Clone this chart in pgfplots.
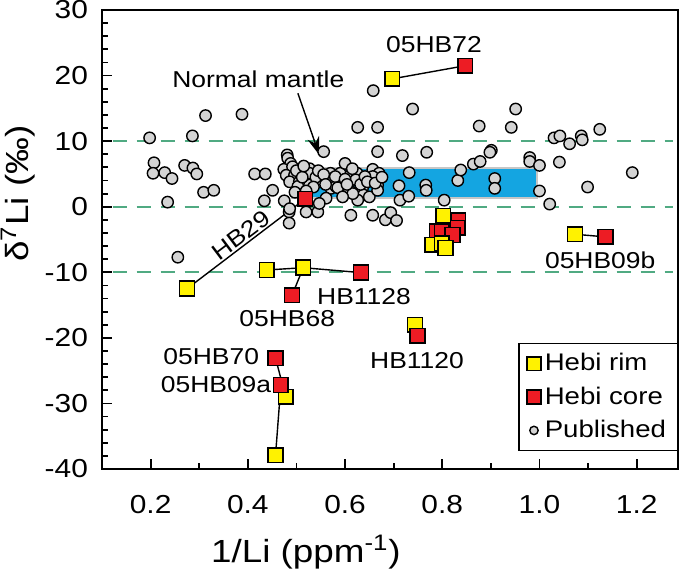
\documentclass[border=0pt]{standalone}
\usepackage{fontspec}
\setmainfont{Liberation Sans}[FakeStretch=1.15]
\usepackage{pgfplots}
\pgfplotsset{compat=1.18}
\usetikzlibrary{arrows.meta}
\definecolor{rimY}{RGB}{255,242,0}
\definecolor{coreR}{RGB}{237,28,36}
\definecolor{pubG}{RGB}{212,212,212}
\definecolor{mantleB}{RGB}{20,165,225}
\definecolor{dashG}{RGB}{80,170,130}
\newcommand\annot{\fontsize{11.5}{13}\selectfont}
\begin{document}
\begin{tikzpicture}
\begin{axis}[
  scale only axis, width=288pt, height=229.5pt,
  xmin=0.1, xmax=1.285, ymin=-40, ymax=30,
  xtick={0.2,0.4,0.6,0.8,1.0,1.2}, ytick={-40,-30,-20,-10,0,10,20,30},
  minor x tick num=1, minor y tick num=4,
  tick pos=left, tick align=inside,
  major tick length=5pt, minor tick length=3.2pt,
  every tick/.style={black, line width=0.9pt},
  axis line style={line width=1.2pt},
  /pgf/number format/assume math mode=true,
  x tick label style={/pgf/number format/fixed, /pgf/number format/fixed zerofill, /pgf/number format/precision=1, font=\fontsize{13}{15}\selectfont, yshift=-9.5pt},
  y tick label style={font=\fontsize{13}{15}\selectfont, xshift=-3.5pt},
  xlabel={1/Li (ppm\textsuperscript{-1})},
  ylabel={δ\textsuperscript{7}Li (‰)},
  xlabel style={font=\fontsize{16}{18}\selectfont, at={(axis description cs:0.354,-0.181)}, anchor=center},
  ylabel style={font=\fontsize{16}{18}\selectfont, at={(axis description cs:-0.146,0.6)}, anchor=center},
  legend style={at={(1,0.04)}, anchor=south east, outer sep=0pt, draw=black, line width=0.8pt, font=\fontsize{12}{14}\selectfont, row sep=2.5pt, inner xsep=4pt, inner ysep=3pt},
  legend cell align=left,
  clip=false,
]
% reference lines
\addplot[dashG, dashed, dash pattern=on 7pt off 5pt, line width=0.8pt, forget plot] coordinates {(0.122,10) (1.275,10)};
\addplot[dashG, dashed, dash pattern=on 7pt off 5pt, line width=0.8pt, forget plot] coordinates {(0.122,0) (1.275,0)};
\addplot[dashG, dashed, dash pattern=on 7pt off 5pt, line width=0.8pt, forget plot] coordinates {(0.122,-10) (1.275,-10)};
% normal mantle
\addplot[draw=gray!45, line width=1pt, fill=mantleB, forget plot] coordinates {(0.49,1.4) (0.995,1.4) (0.995,5.95) (0.49,5.95)} -- cycle;
% tie lines
\addplot[black, line width=0.7pt, forget plot] coordinates {(0.697,19.5) (0.847,21.5)};
\addplot[black, line width=0.7pt, forget plot] coordinates {(0.275,-12.5) (0.518,1.2)};
\addplot[black, line width=0.7pt, forget plot] coordinates {(0.439,-9.65) (0.514,-9.3) (0.633,-10.05)};
\addplot[black, line width=0.7pt, forget plot] coordinates {(0.514,-9.3) (0.491,-13.5)};
\addplot[black, line width=0.7pt, forget plot] coordinates {(0.457,-23.1) (0.478,-29.0)};
\addplot[black, line width=0.7pt, forget plot] coordinates {(0.468,-27.2) (0.457,-37.9)};
\addplot[black, line width=0.7pt, forget plot] coordinates {(1.073,-4.2) (1.136,-4.6)};
% published
\addplot[only marks, mark=*, mark size=2.85pt, mark options={fill=pubG, draw=black, line width=0.7pt}, forget plot] coordinates {
(0.198,10.5) (0.207,6.7) (0.205,5.1) (0.229,5.2) (0.244,4.3) (0.235,0.7) (0.256,-7.7)
(0.270,6.3) (0.286,10.8) (0.287,5.9) (0.295,5.0) (0.313,13.9) (0.309,2.2) (0.330,2.5)
(0.388,14.1) (0.414,5.0) (0.436,5.0) (0.451,2.5) (0.434,0.9) (0.475,0.9) (0.485,-0.8)
(0.485,-2.5) (0.481,7.9) (0.482,7.4)
(0.488,6.6) (0.474,5.7) (0.492,6.1) (0.479,4.8) (0.496,4.8) (0.486,3.8) (0.506,3.8)
(0.503,3.1) (0.527,5.8) (0.527,5.1) (0.527,3.3) (0.551,3.8) (0.570,5.1) (0.574,4.3)
(0.590,5.1) (0.600,6.6) (0.592,3.8) (0.611,4.8) (0.625,5.1) (0.622,4.1) (0.609,2.5)
(0.636,2.8) (0.638,1.8) (0.650,1.5) (0.657,5.7) (0.670,5.1) (0.657,4.6) (0.667,3.3)
(0.667,2.5) (0.626,1.0) (0.616,2.0) (0.571,2.8) (0.561,1.3) (0.544,-0.8) (0.520,-0.8)
(0.486,-0.3) (0.547,0.5) (0.581,3.1) (0.612,-1.3) (0.657,-1.3) (0.683,-2.0) (0.694,-0.9)
(0.706,-2.1) (0.711,3.2) (0.713,1.0) (0.732,5.2) (0.731,1.6) (0.718,7.8) (0.768,8.3)
(0.766,3.3) (0.767,2.5) (0.804,1.0) (0.832,4.0) (0.838,5.6) (0.864,6.5) (0.878,6.9)
(0.908,4.3) (0.908,2.8) (0.901,8.6) (0.898,8.3) (0.556,8.4) (0.667,8.4) (0.626,12.1)
(0.667,12.1) (0.876,12.3) (0.658,17.7) (0.739,14.9) (0.951,14.9) (0.942,12.1) (0.980,7.5)
(0.980,6.9) (1.000,6.3) (1.030,10.5) (1.042,10.8) (1.062,9.6) (1.086,10.8) (1.088,10.2)
(1.124,11.8) (1.041,6.8) (1.191,5.2) (1.099,3.0) (1.000,2.4) (1.021,0.4)
(0.500,5.5) (0.512,4.5) (0.515,6.2) (0.540,4.5) (0.545,5.5) (0.556,4.9) (0.560,3.4)
(0.580,4.6) (0.585,2.9) (0.600,4.2) (0.604,3.4) (0.615,5.8) (0.632,3.4) (0.641,4.6)
(0.646,3.8) (0.662,3.6) (0.676,4.5) (0.535,3.0) (0.497,2.2) (0.520,2.4) (0.595,1.5)
};
% Hebi rim
\addplot[only marks, mark=square*, mark size=3.7pt, mark options={fill=rimY, draw=black, line width=0.8pt}, forget plot] coordinates {
(0.697,19.5) (0.275,-12.5) (0.439,-9.65) (0.514,-9.3) (0.478,-29.0) (0.457,-37.9)
(0.744,-18.0) (1.073,-4.2) (0.802,-1.4)
};
% Hebi core
\addplot[only marks, mark=square*, mark size=3.7pt, mark options={fill=coreR, draw=black, line width=0.8pt}, forget plot] coordinates {
(0.847,21.5) (0.518,1.2) (0.633,-10.05) (0.491,-13.5) (0.457,-23.1) (0.468,-27.2)
(0.749,-19.7) (1.136,-4.6) (0.833,-2.1) (0.832,-3.2) (0.789,-3.8) (0.799,-3.8) (0.821,-4.3)
};
\addplot[only marks, mark=square*, mark size=3.7pt, mark options={fill=rimY, draw=black, line width=0.8pt}, forget plot] coordinates {
(0.780,-5.8) (0.799,-5.6) (0.807,-6.3)
};
% annotations
\node[font=\annot] at (axis cs:0.4215,19.4) {Normal mantle};
\draw[-{Stealth[length=9pt,width=6pt]}, line width=0.7pt] (axis cs:0.503,17.3) -- (axis cs:0.547,7.9);
\node[font=\annot] at (axis cs:0.783,24.7) {05HB72};
\node[font=\annot, rotate=37] at (axis cs:0.386,-4.3) {HB29};
\node[font=\annot] at (axis cs:0.639,-13.7) {HB1128};
\node[font=\annot] at (axis cs:0.481,-17.0) {05HB68};
\node[font=\annot, anchor=east, inner sep=1pt] at (axis cs:0.428,-22.9) {05HB70};
\node[font=\annot, anchor=east, inner sep=1pt] at (axis cs:0.453,-27.2) {05HB09a};
\node[font=\annot] at (axis cs:0.748,-23.4) {HB1120};
\node[font=\annot] at (axis cs:1.125,-8.1) {05HB09b};
% legend
\addlegendimage{only marks, mark=square*, mark size=3.4pt, mark options={fill=rimY, draw=black, line width=0.8pt}}
\addlegendentry{Hebi rim}
\addlegendimage{only marks, mark=square*, mark size=3.4pt, mark options={fill=coreR, draw=black, line width=0.8pt}}
\addlegendentry{Hebi core}
\addlegendimage{only marks, mark=*, mark size=2.1pt, mark options={fill=pubG, draw=black, line width=0.7pt}}
\addlegendentry{Published}
\end{axis}
\pgfresetboundingbox
\path (-51pt,-54.5pt) rectangle (291.5pt,234.5pt);
\end{tikzpicture}
\end{document}
